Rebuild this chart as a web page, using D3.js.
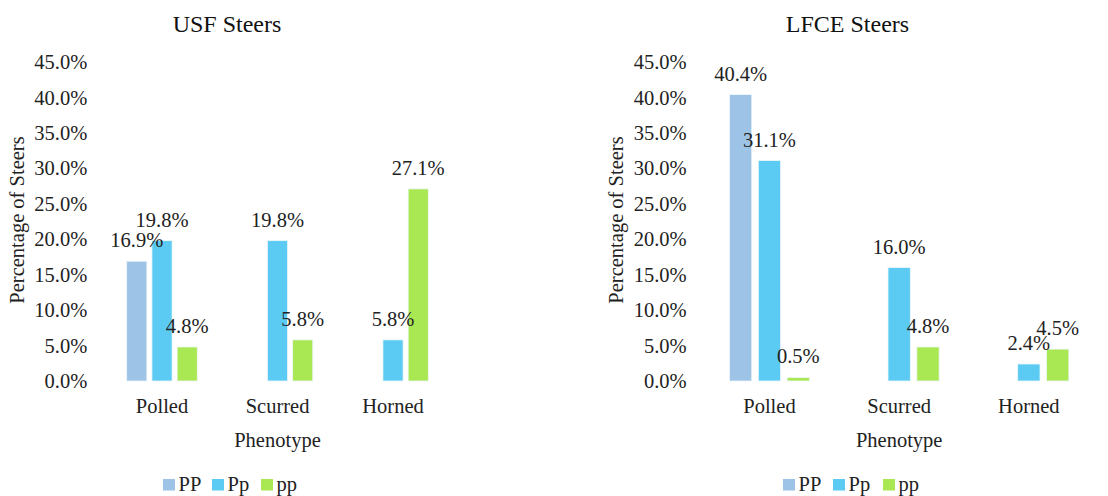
<!DOCTYPE html>
<html>
<head>
<meta charset="utf-8">
<script src="https://cdn.jsdelivr.net/npm/d3@7"></script>
</head>
<body style="margin:0;background:#fff">
<svg id="chart" width="1108" height="496"></svg>
<script>
// Genotype share by horn phenotype, two steer populations
const phenotypes = ["Polled", "Scurred", "Horned"];
const genotypes = ["PP", "Pp", "pp"];
const yTicks = [0, 0.05, 0.10, 0.15, 0.20, 0.25, 0.30, 0.35, 0.40, 0.45];

// values per phenotype, ordered PP, Pp, pp (null = no bar)
const usfValues = [
  [0.169, 0.198, 0.048],
  [null, 0.198, 0.058],
  [null, 0.058, 0.271]
];
const lfceValues = [
  [0.404, 0.311, 0.005],
  [null, 0.160, 0.048],
  [null, 0.024, 0.045]
];

const colors = { PP: "#9DC3E6", Pp: "#5BCBF3", pp: "#A9E852" };
const FONT = 20.5;

const svg = d3.select("#chart");
const pct = d3.format(".1%");

function label(sel, size) {
  return sel
    .attr("font-family", "Liberation Serif")
    .attr("font-size", size)
    .style("font-family", '"Liberation Serif"')
    .style("font-size", size + "px")
    .attr("fill", "#222");
}

function drawPanel(title, values, layout) {
  const g = svg.append("g");
  const y = d3.scaleLinear().domain([0, 0.45]).range([381, 62]);
  const x0 = d3.scaleBand().domain(phenotypes).range([layout.left, layout.right]).paddingInner(0).paddingOuter(0);

  // y axis: labels only
  const yAxis = g.append("g")
    .attr("transform", `translate(${layout.left},0)`)
    .call(d3.axisLeft(y).tickValues(yTicks).tickFormat(d3.format(".1%")).tickSize(0).tickPadding(layout.tickPad));
  yAxis.attr("font-family", "Liberation Serif").attr("font-size", FONT);
  yAxis.select(".domain").remove();
  label(yAxis.selectAll("text"), FONT);

  // x axis: category labels
  const xAxis = g.append("g")
    .attr("transform", `translate(0,${y(0)})`)
    .call(d3.axisBottom(x0).tickSize(0).tickPadding(17.5));
  xAxis.attr("font-family", "Liberation Serif").attr("font-size", FONT);
  xAxis.select(".domain").remove();
  label(xAxis.selectAll("text"), FONT);

  const rows = phenotypes.map((p, i) => ({ p, vals: genotypes.map((k, j) => ({ k, v: values[i][j] })) }));

  rows.forEach(row => {
    const c = x0(row.p) + x0.bandwidth() / 2;
    const x1 = d3.scaleBand().domain(genotypes)
      .range([c - layout.group / 2, c + layout.group / 2])
      .paddingInner(layout.innerPad).paddingOuter(0);
    const items = row.vals.filter(d => d.v !== null);
    g.selectAll(null).data(items).enter().append("rect")
      .attr("x", d => x1(d.k))
      .attr("y", d => y(d.v))
      .attr("width", x1.bandwidth())
      .attr("height", d => y(0) - y(d.v))
      .attr("fill", d => colors[d.k])
      .attr("stroke", "#eef6fb")
      .attr("stroke-width", 0.8);
    label(g.selectAll(null).data(items).enter().append("text")
      .attr("x", d => x1(d.k) + x1.bandwidth() / 2)
      .attr("y", d => y(d.v) - 14)
      .attr("text-anchor", "middle")
      .text(d => pct(d.v)), FONT);
  });

  // title
  label(g.append("text")
    .attr("x", layout.titleX).attr("y", 32)
    .attr("text-anchor", "middle")
    .text(title), 24).attr("fill", "#111");

  // axis titles
  const plotMid = (layout.left + layout.right) / 2;
  label(g.append("text")
    .attr("x", plotMid).attr("y", 447)
    .attr("text-anchor", "middle")
    .text("Phenotype"), FONT);
  label(g.append("text")
    .attr("transform", `translate(${layout.yTitleX},220) rotate(-90)`)
    .attr("text-anchor", "middle")
    .text("Percentage of Steers"), FONT);

  // legend
  const leg = g.append("g").attr("transform", `translate(${layout.legendX},479)`);
  const item = leg.selectAll("g").data(genotypes).enter().append("g")
    .attr("transform", (d, i) => `translate(${i * layout.legendStep},0)`);
  item.append("rect").attr("width", 12).attr("height", 11.5).attr("fill", d => colors[d]);
  label(item.append("text").attr("x", 15.5).attr("y", 11.5).text(d => d), FONT);
}

drawPanel("USF Steers", usfValues, {
  left: 104.25, right: 450.75, group: 70.6, innerPad: 0.2, tickPad: 17,
  titleX: 227, yTitleX: 24, legendX: 163, legendStep: 49
});
drawPanel("LFCE Steers", lfceValues, {
  left: 704.6, right: 1093.7, group: 80, innerPad: 0.226, tickPad: 18,
  titleX: 847.5, yTitleX: 623, legendX: 783, legendStep: 50
});
</script>
</body>
</html>
